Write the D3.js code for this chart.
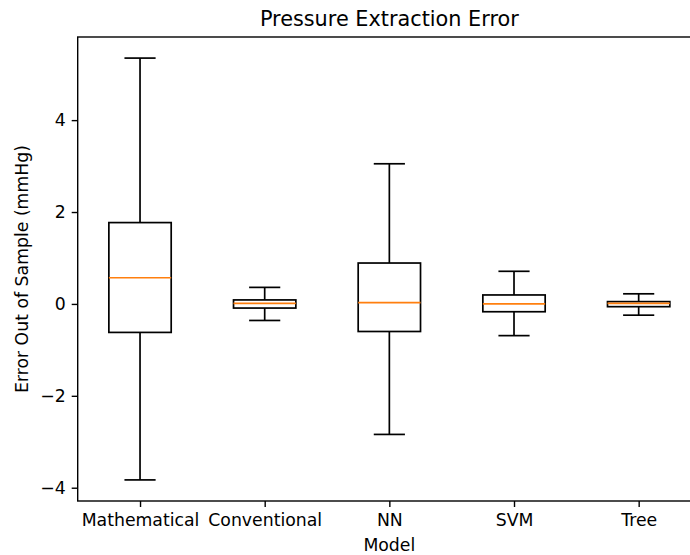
<!DOCTYPE html>
<html>
<head>
<meta charset="utf-8">
<script src="https://cdn.jsdelivr.net/npm/d3@7"></script>
<style>
  body { margin: 0; background: #fff; }
  svg { display: block; font-family: "DejaVu Sans", sans-serif; }
</style>
</head>
<body>
<div id="chart"></div>
<script>
// box stats (mmHg)
const models   = ["Mathematical", "Conventional", "NN", "SVM", "Tree"];
const whiskLow = [-3.83, -0.36, -2.84, -0.69, -0.245];
const q1       = [-0.62, -0.09, -0.60, -0.17, -0.06];
const medians  = [ 0.57,  0.01,  0.03,  0.00,  0.01];
const q3       = [ 1.77,  0.087, 0.89,  0.195, 0.05];
const whiskHigh= [ 5.35,  0.36,  3.05,  0.71,  0.22];
const yTicks   = [-4, -2, 0, 2, 4];

const width = 690, height = 555;
const margin = {top: 37, right: -11, bottom: 54, left: 77.7};

const boxes = models.map((m, i) => ({
  model: m, lo: whiskLow[i], q1: q1[i], med: medians[i], q3: q3[i], hi: whiskHigh[i]
}));

const svg = d3.select("#chart").append("svg")
    .attr("width", width)
    .attr("height", height);

const x = d3.scalePoint()
    .domain(models)
    .range([margin.left, width - margin.right])
    .padding(0.5);

// matplotlib style 5% margin around the data
const lo = d3.min(whiskLow), hi = d3.max(whiskHigh);
const pad = (hi - lo) * 0.05;
const y = d3.scaleLinear()
    .domain([lo - pad, hi + pad])
    .range([height - margin.bottom, margin.top]);

const boxW = x.step() * 0.5;
const capW = boxW / 2;

const g = svg.append("g")
    .selectAll("g")
    .data(boxes)
    .join("g")
      .attr("transform", d => `translate(${x(d.model)},0)`);

// whiskers
g.append("line")
    .attr("y1", d => y(d.q3)).attr("y2", d => y(d.hi))
    .attr("stroke", "#000").attr("stroke-width", 1.7);
g.append("line")
    .attr("y1", d => y(d.q1)).attr("y2", d => y(d.lo))
    .attr("stroke", "#000").attr("stroke-width", 1.7);
// caps
g.append("line")
    .attr("x1", -capW / 2).attr("x2", capW / 2)
    .attr("y1", d => y(d.hi)).attr("y2", d => y(d.hi))
    .attr("stroke", "#000").attr("stroke-width", 1.7);
g.append("line")
    .attr("x1", -capW / 2).attr("x2", capW / 2)
    .attr("y1", d => y(d.lo)).attr("y2", d => y(d.lo))
    .attr("stroke", "#000").attr("stroke-width", 1.7);
// box
g.append("rect")
    .attr("x", -boxW / 2)
    .attr("width", boxW)
    .attr("y", d => y(d.q3))
    .attr("height", d => y(d.q1) - y(d.q3))
    .attr("fill", "none")
    .attr("stroke", "#000").attr("stroke-width", 1.7);
// median
g.append("line")
    .attr("x1", -boxW / 2).attr("x2", boxW / 2)
    .attr("y1", d => y(d.med)).attr("y2", d => y(d.med))
    .attr("stroke", "#ff7f0e").attr("stroke-width", 1.7);

// axes
const xAxis = svg.append("g")
    .attr("transform", `translate(0,${height - margin.bottom})`)
    .call(d3.axisBottom(x).tickSizeOuter(0).tickSize(6).tickPadding(6));
const yAxis = svg.append("g")
    .attr("transform", `translate(${margin.left},0)`)
    .call(d3.axisLeft(y).tickValues(yTicks).tickSizeOuter(0).tickSize(6).tickPadding(6));

[xAxis, yAxis].forEach(a => {
  a.select(".domain").remove();
  a.selectAll(".tick line").attr("stroke", "#000").attr("stroke-width", 1.4);
  a.selectAll(".tick text")
      .attr("fill", "#000")
      .style("font-family", "'DejaVu Sans', sans-serif")
      .style("font-size", "17.3px");
});
xAxis.selectAll(".tick text").attr("dy", "0.78em");

// frame (right spine sits just outside the picture)
svg.append("rect")
    .attr("x", margin.left)
    .attr("y", margin.top)
    .attr("width", width - margin.right - margin.left)
    .attr("height", height - margin.bottom - margin.top)
    .attr("fill", "none")
    .attr("stroke", "#000")
    .attr("stroke-width", 1.4);

svg.append("text")
    .attr("x", (margin.left + width - margin.right) / 2)
    .attr("y", 26)
    .attr("text-anchor", "middle")
    .style("font-size", "20.8px")
    .text("Pressure Extraction Error");

svg.append("text")
    .attr("x", (margin.left + width - margin.right) / 2)
    .attr("y", 551)
    .attr("text-anchor", "middle")
    .style("font-size", "17.3px")
    .text("Model");

svg.append("text")
    .attr("transform", `translate(28,${(margin.top + height - margin.bottom) / 2}) rotate(-90)`)
    .attr("text-anchor", "middle")
    .style("font-size", "17.3px")
    .text("Error Out of Sample (mmHg)");
</script>
</body>
</html>
